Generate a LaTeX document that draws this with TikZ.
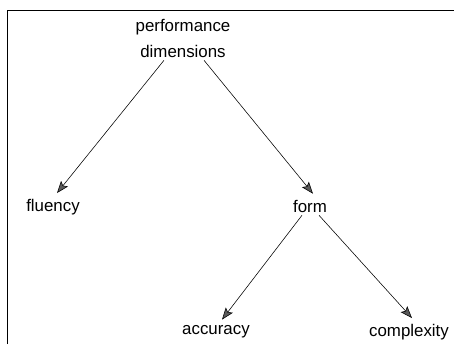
\documentclass[tikz,border=0pt]{standalone}
\usepackage{fontspec}
\setmainfont{Liberation Sans}
\usetikzlibrary{arrows.meta,calc}

\begin{document}
\begin{tikzpicture}[
  x=0.025cm, y=-0.025cm,
  label/.style={font=\fontsize{12}{18.5}\selectfont,inner sep=2pt,align=center},
  branch/.style={-{Stealth[length=3mm,width=2.2mm,inset=0.6mm,fill=black!65]},thin},
]
\useasboundingbox (0,0) rectangle (454,344);
% frame
\draw[semithick] (7.5,344) -- (7.5,10.5) -- (454,10.5);

\node[label] (root) at (183,38) {performance\\dimensions};
\node[label] (flu)  at (53,207)  {fluency};
\node[label] (form) at (310,206) {form};
\node[label] (acc)  at (216,332) {accuracy};
\node[label] (cpx)  at (409,332) {complexity};

\draw[branch] ($(root.south)+(-19,0)$) -- ($(flu.north)+(4,-3)$);
\draw[branch] ($(root.south)+(21,0)$)  -- ($(form.north)+(3,-3)$);
\draw[branch] ($(form.south)+(-8,0)$)  -- ($(acc.north)+(6,-3)$);
\draw[branch] ($(form.south)+(9,0)$)   -- ($(cpx.north)+(3,-3)$);
\end{tikzpicture}
\end{document}
